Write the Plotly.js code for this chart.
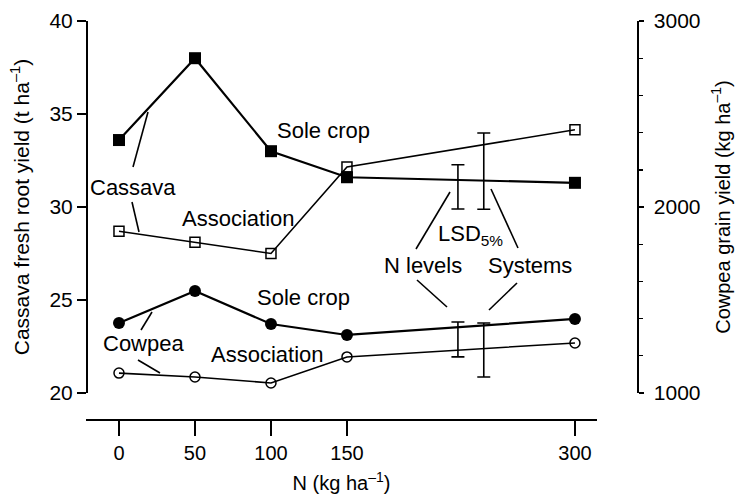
<!DOCTYPE html>
<html>
<head>
<meta charset="utf-8">
<script src="https://cdn.plot.ly/plotly-3.0.1.min.js"></script>
<style>html,body{margin:0;padding:0;background:#fff;}#chart{width:740px;height:494px;}</style>
</head>
<body>
<div id="chart"></div>
<script>
// ---- data ----
const nLevels = [0, 50, 100, 150, 300];
const tickLabels = ['0', '50', '100', '150', '300'];
const cassavaSole = [33.6, 38.0, 33.0, 31.6, 31.3];      // t/ha
const cassavaAssoc = [28.7, 28.1, 27.5, 32.15, 34.15];   // t/ha
const cowpeaSole = [1376, 1548, 1371, 1312, 1398];       // kg/ha
const cowpeaAssoc = [1107, 1086, 1054, 1194, 1269];      // kg/ha
// LSD 5% bars: [N levels, Systems]
const lsdX = [223, 240];
const cassavaLsdCentre = [31.08, 31.93];
const cassavaLsdHalf = [1.19, 2.05];
const cowpeaLsdCentre = [1288, 1231];
const cowpeaLsdHalf = [94, 145];

// ---- layout helpers ----
const W = 740, H = 494;
const M = {l: 86, r: 103, t: 21, b: 75};
const PW = W - M.l - M.r, PH = H - M.t - M.b;
const px = x => (x - M.l) / PW;
const py = y => (M.t + PH - y) / PH;
const FONT = 'Liberation Sans, Arial, sans-serif';

function line(x0, y0, x1, y1) {
  return {type: 'line', xref: 'paper', yref: 'paper', x0: px(x0), y0: py(y0), x1: px(x1), y1: py(y1),
          line: {color: '#000', width: 1.6}};
}
function label(text, x, y, size) {
  return {text: text, xref: 'paper', yref: 'paper', x: px(x), y: py(y), xanchor: 'center', yanchor: 'middle',
          showarrow: false, font: {family: FONT, size: size || 22, color: '#000'}};
}

const traces = [
  {x: nLevels, y: cassavaSole, yaxis: 'y', mode: 'lines+markers',
   line: {color: '#000', width: 2.2}, marker: {symbol: 'square', size: 12, color: '#000'}},
  {x: nLevels, y: cassavaAssoc, yaxis: 'y', mode: 'lines+markers',
   line: {color: '#000', width: 1.6}, marker: {symbol: 'square-open', size: 10, color: '#000', line: {width: 1.5}}},
  {x: nLevels, y: cowpeaSole, yaxis: 'y2', mode: 'lines+markers',
   line: {color: '#000', width: 2.2}, marker: {symbol: 'circle', size: 12, color: '#000'}},
  {x: nLevels, y: cowpeaAssoc, yaxis: 'y2', mode: 'lines+markers',
   line: {color: '#000', width: 1.6}, marker: {symbol: 'circle-open', size: 10, color: '#000', line: {width: 1.5}}},
  {x: lsdX, y: cassavaLsdCentre, yaxis: 'y', mode: 'markers', marker: {size: 0.1, color: 'rgba(0,0,0,0)'},
   error_y: {type: 'data', array: cassavaLsdHalf, visible: true, color: '#000', thickness: 1.6, width: 6.5}},
  {x: lsdX, y: cowpeaLsdCentre, yaxis: 'y2', mode: 'markers', marker: {size: 0.1, color: 'rgba(0,0,0,0)'},
   error_y: {type: 'data', array: cowpeaLsdHalf, visible: true, color: '#000', thickness: 1.6, width: 6.5}}
];

const layout = {
  width: W, height: H,
  margin: M,
  paper_bgcolor: '#fff', plot_bgcolor: '#fff',
  showlegend: false,
  font: {family: FONT, color: '#000'},
  xaxis: {
    domain: [0, 511 / PW], range: [-21.7, 314.5], anchor: 'free', position: 0,
    tickmode: 'array', tickvals: nLevels, ticktext: tickLabels,
    ticks: 'outside', ticklen: 15, tickwidth: 1.6, tickcolor: '#000', ticklabelstandoff: 0,
    showline: true, linecolor: '#000', linewidth: 1.8, showgrid: false, zeroline: false,
    tickfont: {family: FONT, size: 20, color: '#000'},
    title: {text: 'N (kg ha<sup>–1</sup>)', font: {family: FONT, size: 20, color: '#000'}, standoff: 14}
  },
  yaxis: {
    domain: [26 / PH, 1], range: [20, 40], anchor: 'free', position: 0, side: 'left',
    tickmode: 'array', tickvals: [20, 25, 30, 35, 40],
    ticks: 'outside', ticklen: 9, tickwidth: 1.6, tickcolor: '#000', ticklabelstandoff: 0,
    showline: true, linecolor: '#000', linewidth: 1.6, showgrid: false, zeroline: false,
    tickfont: {family: FONT, size: 21, color: '#000'},
    title: {text: 'Cassava fresh root yield (t ha<sup>–1</sup>)', font: {family: FONT, size: 21, color: '#000'}, standoff: 12}
  },
  yaxis2: {
    domain: [26 / PH, 1], range: [1000, 3000], overlaying: 'y', anchor: 'free', position: 1, side: 'right',
    tickmode: 'array', tickvals: [1000, 2000, 3000],
    ticks: 'outside', ticklen: 5, tickwidth: 1.6, tickcolor: '#000', ticklabelstandoff: 6,
    minor: {dtick: 200, ticks: 'outside', ticklen: 4, tickwidth: 1.4, tickcolor: '#000', showgrid: false},
    showline: true, linecolor: '#000', linewidth: 1.6, showgrid: false, zeroline: false,
    tickfont: {family: FONT, size: 21, color: '#000'},
    title: {text: 'Cowpea grain yield (kg ha<sup>–1</sup>)', font: {family: FONT, size: 20, color: '#000'}, standoff: 16}
  },
  shapes: [
    line(148, 112, 133, 167),
    line(132, 202, 139, 232),
    line(152, 312, 141, 330),
    line(138, 360, 160, 373),
    line(450, 192, 416, 249),
    line(491, 189, 518, 248),
    line(417, 280, 447, 307),
    line(517, 283, 489, 310)
  ],
  annotations: [
    label('Sole crop', 323, 130),
    label('Cassava', 133, 187),
    label('Association', 238, 218),
    label('Sole crop', 303, 297),
    label('Cowpea', 143, 343),
    label('Association', 267, 354),
    label('LSD<sub>5%</sub>', 470, 235),
    label('N levels', 423, 265),
    label('Systems', 530, 265)
  ]
};

Plotly.newPlot('chart', traces, layout, {displayModeBar: false, staticPlot: true});
</script>
</body>
</html>
